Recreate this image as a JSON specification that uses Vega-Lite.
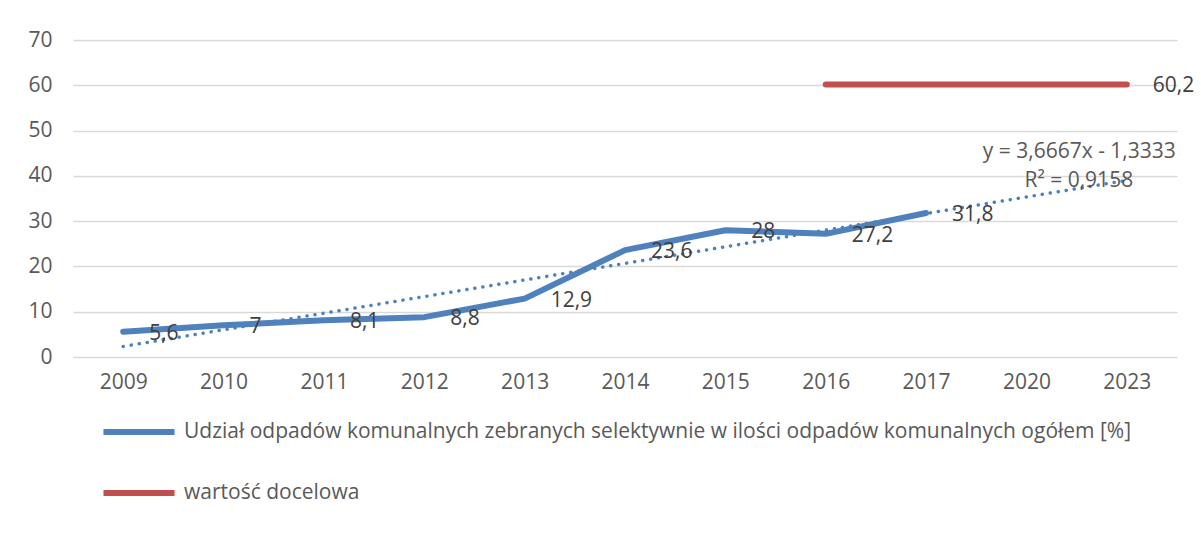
{
  "$schema": "https://vega.github.io/schema/vega-lite/v6.json",
  "width": 1104,
  "height": 317,
  "autosize": {"type": "none"},
  "padding": {"left": 73, "top": 40, "right": 24, "bottom": 183},
  "background": "white",
  "config": {
    "font": "Open Sans",
    "view": {"stroke": null},
    "locale": {"number": {"decimal": ",", "thousands": " ", "grouping": [3], "currency": ["", " zł"]}},
    "axis": {"labelFont": "Open Sans", "labelFontSize": 21, "labelColor": "#595959", "domain": false, "ticks": false, "title": null},
    "legend": {
      "orient": "none", "legendX": 51, "legendY": 377, "direction": "vertical",
      "symbolType": "M-3,0H3", "symbolSize": 561, "symbolStrokeWidth": 6, "symbolStrokeCap": "round",
      "labelFont": "Open Sans", "labelFontSize": 21, "labelColor": "#595959", "labelLimit": 0,
      "labelOffset": 30, "rowPadding": 34, "title": null
    }
  },
  "datasets": {
    "series": [
      {"year": "2009", "value": 5.6, "series": "Udział odpadów komunalnych zebranych selektywnie w ilości odpadów komunalnych ogółem [%]"},
      {"year": "2010", "value": 7.0, "series": "Udział odpadów komunalnych zebranych selektywnie w ilości odpadów komunalnych ogółem [%]"},
      {"year": "2011", "value": 8.1, "series": "Udział odpadów komunalnych zebranych selektywnie w ilości odpadów komunalnych ogółem [%]"},
      {"year": "2012", "value": 8.8, "series": "Udział odpadów komunalnych zebranych selektywnie w ilości odpadów komunalnych ogółem [%]"},
      {"year": "2013", "value": 12.9, "series": "Udział odpadów komunalnych zebranych selektywnie w ilości odpadów komunalnych ogółem [%]"},
      {"year": "2014", "value": 23.6, "series": "Udział odpadów komunalnych zebranych selektywnie w ilości odpadów komunalnych ogółem [%]"},
      {"year": "2015", "value": 28.0, "series": "Udział odpadów komunalnych zebranych selektywnie w ilości odpadów komunalnych ogółem [%]"},
      {"year": "2016", "value": 27.2, "series": "Udział odpadów komunalnych zebranych selektywnie w ilości odpadów komunalnych ogółem [%]"},
      {"year": "2017", "value": 31.8, "series": "Udział odpadów komunalnych zebranych selektywnie w ilości odpadów komunalnych ogółem [%]"},
      {"year": "2016", "value": 60.2, "series": "wartość docelowa"},
      {"year": "2017", "value": 60.2, "series": "wartość docelowa"},
      {"year": "2020", "value": 60.2, "series": "wartość docelowa"},
      {"year": "2023", "value": 60.2, "series": "wartość docelowa"}
    ],
    "trend": [
      {"year": "2009", "value": 2.3334},
      {"year": "2023", "value": 39.0004}
    ],
    "equation": [
      {"year": "2023", "value": 45.2, "label": "y = 3,6667x - 1,3333"}
    ],
    "r2": [
      {"year": "2023", "value": 38.85, "label": "R² = 0,9158"}
    ]
  },
  "encoding": {
    "x": {"field": "year", "type": "ordinal", "scale": {"type": "point", "padding": 0.5, "domain": ["2009","2010","2011","2012","2013","2014","2015","2016","2017","2020","2023"]},
      "axis": {"labelAngle": 0, "labelPadding": 14}},
    "y": {"field": "value", "type": "quantitative", "scale": {"domain": [0, 70], "nice": false},
      "axis": {"values": [0,10,20,30,40,50,60,70], "grid": true, "gridColor": "#D9D9D9", "gridWidth": 1.3, "labelPadding": 21}}
  },
  "layer": [
    {
      "data": {"name": "series"},
      "mark": {"type": "line", "strokeWidth": 6, "strokeCap": "round", "strokeJoin": "round"},
      "encoding": {
        "color": {"field": "series", "type": "nominal",
          "scale": {"domain": ["Udział odpadów komunalnych zebranych selektywnie w ilości odpadów komunalnych ogółem [%]", "wartość docelowa"], "range": ["#4F81BD", "#C0504D"]}}
      }
    },
    {
      "data": {"name": "trend"},
      "mark": {"type": "line", "strokeWidth": 3.5, "strokeDash": [0.1, 8], "strokeCap": "round", "color": "#4F81BD"},
      "encoding": {}
    },
    {
      "data": {"name": "series"},
      "transform": [{"filter": "datum.series != 'wartość docelowa' || datum.year == '2023'"}],
      "mark": {"type": "text", "align": "left", "baseline": "middle", "dx": 26, "dy": 2, "fontSize": 21, "font": "Open Sans", "color": "#404040"},
      "encoding": {"text": {"field": "value", "type": "quantitative", "format": ".1~f"}}
    },
    {
      "data": {"name": "equation"},
      "mark": {"type": "text", "align": "right", "baseline": "middle", "dx": 49, "fontSize": 21, "font": "Open Sans", "color": "#595959"},
      "encoding": {"text": {"field": "label", "type": "nominal"}}
    },
    {
      "data": {"name": "r2"},
      "mark": {"type": "text", "align": "center", "baseline": "middle", "dx": -48, "fontSize": 21, "font": "Open Sans", "color": "#595959"},
      "encoding": {"text": {"field": "label", "type": "nominal"}}
    }
  ]
}
